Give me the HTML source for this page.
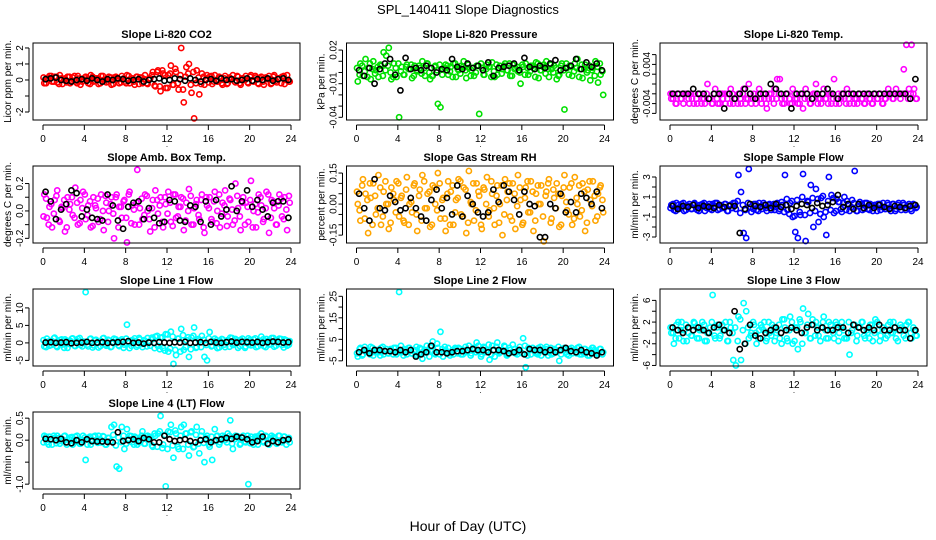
<!DOCTYPE html>
<html><head><meta charset="utf-8">
<style>
html,body{margin:0;padding:0;background:#fff;}
svg{display:block;font-family:"Liberation Sans",sans-serif;}
</style></head>
<body>
<svg id="chart" width="936" height="540" viewBox="0 0 936 540" xmlns="http://www.w3.org/2000/svg">
<text x="468" y="14" text-anchor="middle" font-size="13">SPL_140411  Slope Diagnostics</text>
<text x="468" y="531" text-anchor="middle" font-size="14">Hour of Day (UTC)</text>
</svg>
<script>
// x-axis tick values (hours)
const xTicks = [0,4,8,12,16,20,24];

// Panel titles and y axis titles
const titles = ["Slope Li-820 CO2","Slope Li-820 Pressure","Slope Li-820 Temp.","Slope Amb. Box Temp.","Slope Gas Stream RH","Slope Sample Flow","Slope Line 1 Flow","Slope Line 2 Flow","Slope Line 3 Flow","Slope Line 4 (LT) Flow"];
const yTitles = ["Licor ppm per min.","kPa per min.","degrees C per min.","degrees C per min.","percent per min.","ml/min per min.","ml/min per min.","ml/min per min.","ml/min per min.","ml/min per min."];
const colors = ["#ff0000","#00e000","#ff00ff","#ff00ff","#ffa500","#0000ff","#00ffff","#00ffff","#00ffff","#00ffff"];

// y ranges
const yMins = [-2.5,-0.0424,-0.00735,-0.234,-0.188,-3.6,-6.6,-7.4,-6.1,-1.11];
const yMaxs = [2.31,0.0263,0.00837,0.328,0.184,4.1,15.4,28.4,8.1,0.64];
// y ticks and labelled ticks
const yTicks = [[-2,-1,0,1,2],[-0.04,-0.03,-0.02,-0.01,0,0.01,0.02],[-0.006,-0.004,-0.002,0,0.002,0.004,0.006],[-0.2,-0.1,0,0.1,0.2],[-0.15,-0.1,-0.05,0,0.05,0.1,0.15],[-3,-2,-1,0,1,2,3],[-5,0,5,10],[-5,0,5,10,15,20,25],[-6,-4,-2,0,2,4,6],[-1,-0.5,0,0.5]];
const yLabels = [["-2","0","1","2"],["-0.04","-0.01","0.02"],["-0.004","0.004"],["-0.2","0.0","0.2"],["-0.15","0.00","0.15"],["-3","-1","1","3"],["-5","0","5","10"],["-5","5","15","25"],["-6","-2","2","6"],["-1.0","0.0","0.5"]];
const yLabelVals = [[-2,0,1,2],[-0.04,-0.01,0.02],[-0.004,0.004],[-0.2,0,0.2],[-0.15,0,0.15],[-3,-1,1,3],[-5,0,5,10],[-5,5,15,25],[-6,-2,2,6],[-1,0,0.5]];

// colored (per-minute) series, evenly spaced over the day
const co2Color = [-0.2,0.1,0.25,-0.1,0.2,-0.15,0.3,-0.25,0.1,0.2,-0.2,0.15,-0.1,0.25,-0.3,0.05,0.2,-0.2,0.3,-0.1,0.1,-0.25,0.25,0.0,-0.15,0.2,-0.3,0.15,0.1,-0.2,0.25,-0.1,0.3,-0.2,0.1,-0.3,0.2,0.15,-0.2,0.3,-0.25,0.1,0.5,-0.4,0.6,-0.7,0.4,-0.5,0.3,0.9,-0.3,0.5,-0.6,2.0,-1.4,0.8,1.0,-0.8,-2.4,0.6,-0.9,0.4,-0.3,0.3,0.2,-0.25,0.3,-0.1,0.15,-0.3,0.25,-0.2,0.1,0.3,-0.15,0.2,-0.3,0.1,0.25,-0.2,0.3,-0.1,0.15,-0.25,0.2,-0.3,0.1,0.25,-0.2,0.3,-0.15,0.1,0.2,-0.25,0.3,-0.1];
const presColor = [-0.008,0.008,-0.003,0.012,0.004,-0.006,0.010,0.002,-0.004,0.006,0.018,0.015,0.022,-0.006,0.008,-0.004,-0.040,0.005,-0.002,0.007,0.003,-0.005,0.006,0.001,0.004,0.010,-0.003,0.008,-0.006,-0.003,0.006,-0.028,-0.031,0.003,0.007,-0.002,0.005,0.008,-0.004,0.002,0.006,0.010,-0.005,0.004,0.002,-0.003,0.006,-0.037,0.004,-0.002,0.007,0.005,0.009,-0.004,-0.002,0.006,0.003,0.008,0.002,-0.003,0.007,0.004,0.001,-0.010,0.005,0.008,-0.002,0.006,0.004,0.009,-0.005,0.002,0.007,0.010,-0.004,0.003,0.006,-0.006,-0.002,0.008,-0.033,0.004,0.006,-0.003,0.008,0.012,0.003,-0.005,0.007,0.002,-0.007,0.004,0.010,-0.009,-0.002,-0.020];
const tempColor = [-0.003,-0.002,-0.004,-0.002,-0.003,-0.002,-0.002,-0.004,-0.003,-0.002,-0.004,-0.002,-0.003,-0.004,0.000,-0.003,-0.004,-0.001,-0.004,-0.002,-0.003,-0.004,-0.002,-0.001,-0.004,-0.003,-0.002,-0.004,-0.001,-0.003,0.000,-0.004,-0.002,-0.003,-0.001,-0.004,-0.003,-0.005,-0.002,-0.003,-0.001,0.001,0.001,-0.004,-0.003,-0.002,-0.004,-0.001,-0.003,-0.004,-0.002,-0.005,-0.001,-0.003,-0.004,-0.002,0.000,-0.003,-0.004,-0.001,-0.003,-0.002,-0.004,0.001,-0.003,-0.004,-0.002,-0.003,-0.001,-0.004,-0.002,-0.003,-0.004,-0.002,-0.003,-0.004,-0.002,-0.003,-0.004,-0.002,-0.003,-0.002,-0.004,-0.003,-0.001,-0.002,-0.003,-0.001,-0.002,-0.002,0.003,0.008,-0.001,0.008,-0.001,-0.003];
const boxColor = [0.12,-0.05,0.03,-0.12,0.08,0.15,-0.08,0.02,-0.15,0.1,0.05,-0.03,0.17,-0.1,0.08,0.14,-0.06,0.04,-0.12,0.1,0.02,-0.08,0.12,-0.14,0.06,0.0,0.1,-0.2,0.12,0.03,-0.05,0.08,-0.23,0.14,0.04,-0.1,0.3,0.02,-0.06,0.12,0.0,-0.15,0.08,0.15,-0.02,0.1,-0.12,0.05,0.14,-0.08,0.12,-0.05,0.03,0.1,-0.14,0.06,0.16,-0.1,0.02,0.08,-0.06,0.12,-0.16,0.04,0.1,-0.08,0.14,0.0,-0.12,0.06,0.15,-0.04,0.08,-0.1,0.2,0.02,-0.14,0.1,0.06,-0.08,0.22,0.0,-0.12,0.12,0.04,-0.06,0.14,-0.16,0.08,0.02,-0.1,0.12,-0.04,0.1,-0.14,0.06];
const rhColor = [0.0,-0.08,0.12,0.05,-0.14,0.03,0.1,-0.05,0.14,-0.1,0.06,0.0,-0.12,0.08,0.02,0.11,-0.06,0.04,-0.09,0.13,0.0,-0.04,0.1,-0.13,0.07,0.14,-0.02,0.05,-0.11,0.09,0.0,0.15,-0.07,0.03,-0.13,0.11,0.06,-0.1,0.02,0.12,-0.05,0.08,-0.14,0.16,0.0,-0.08,0.1,0.04,-0.12,0.07,0.13,-0.03,0.05,-0.1,0.09,0.0,-0.15,0.12,0.06,-0.06,0.1,-0.12,0.14,0.02,-0.09,0.08,-0.04,0.11,-0.13,0.05,0.0,0.09,-0.18,0.06,0.12,-0.07,0.03,0.1,-0.11,0.04,0.14,-0.03,0.08,-0.1,0.13,0.0,-0.06,0.1,-0.13,0.07,0.02,0.11,-0.08,0.05,0.09,-0.04];
const flowColor = [0.2,-0.3,0.4,-0.2,0.3,-0.4,0.1,0.3,-0.2,0.4,-0.3,0.2,0.3,-0.4,0.1,-0.2,0.3,0.4,-0.3,0.2,-0.1,0.3,-0.4,0.2,0.4,-0.2,3.2,1.5,-2.6,-3.1,3.8,-0.5,0.3,-0.3,0.4,-0.2,0.2,-0.4,0.3,0.1,-0.3,0.4,-0.2,0.2,3.2,-0.3,0.4,-1.0,-2.5,-3.1,-0.8,3.3,-3.4,0.5,2.2,-2.0,1.8,-1.5,0.9,-1.0,-2.8,3.0,1.2,-0.6,0.8,0.5,-0.5,1.0,0.6,-0.4,0.7,3.6,-0.4,0.5,-0.3,0.4,-0.2,0.3,-0.4,0.2,0.3,-0.3,0.4,-0.2,0.2,-0.4,0.3,-0.2,0.4,-0.3,0.2,-0.1,0.3,-0.4,0.2,0.0];
const line1Color = [-1,1.2,-0.8,0.5,1.5,-1.2,0.8,-0.5,1.0,-1.4,0.6,1.3,-0.9,1.1,-0.6,0.4,14.5,-1.0,1.2,-0.7,0.9,-1.3,0.5,1.4,-0.8,0.7,-1.1,1.2,0.3,-0.9,1.0,-0.5,5.2,-1.5,0.8,1.3,-0.6,1.0,-1.2,0.5,1.4,-0.8,1.1,1.8,-0.9,1.5,-1.5,2.5,-2.5,3.2,-6.0,-3.5,1.2,4.0,-2.0,0.8,-4.0,1.5,4.4,-1.2,0.7,2.0,-4.0,-5.0,3.1,-0.8,1.2,-1.5,0.6,1.0,-1.2,0.8,1.5,-0.6,1.1,-1.4,0.9,0.3,-1.0,1.3,-0.7,1.0,-1.2,0.6,1.8,-0.9,1.1,-0.5,1.4,-1.1,0.8,1.2,-0.6,1.0,-0.8,0.5];
const line2Color = [-3,1,-2,0,-1,1.5,-2.5,0,-1,1,-2,0.5,-1.5,0,1,-2,27,-1,0.5,-2,1,-1.5,0,-2.5,1,-4,0,-1,1.5,4,-2,1,8.5,-3,0,1,-1.5,-2,0.5,1,-2,0,-1,2,-1.5,0,3.5,-1,-2,1,0,-4.5,2,-3,3.5,-1,0,1.5,-2,0,2.5,-1.5,0,-1,5.5,-8,1,-2,0,-1.5,1,-2.5,0,1.5,-1,-2,0.5,-1,-5,0,1,-2,0.5,-1.5,0,1,-2,-1,0.5,-2.5,0,1,-1,-2,0.5,-1];
const line3Color = [0,-2,1.5,-1,2,0.5,-1.5,1,-0.5,1.8,-1,0.5,2,-1.5,0,1,7,-1,1.5,-0.5,0.5,2,-1.5,1,-5,-6,3,-5,5.5,4,-1,0,1.5,-2,0.5,1,2,-1,0,1.5,-1.5,0.5,-1,2.5,1,-1.5,3,-2,1,-3,2,4.5,0,3.5,-1,1.5,2,-0.5,1,3,-1,2,0.5,-1,1.5,0,2,-1,-1,-4,0.5,1.5,-0.5,1,2,-1,0,1.5,-1.5,2.5,0.5,-0.5,1,-1,1.5,0,2,-1,0.5,1,-0.5,1.5,2,-1,0.5,-0.5];
const line4Color = [0.1,-0.05,0.08,-0.1,0.05,0.1,-0.08,0.02,0.1,-0.05,0.06,-0.1,0.08,0.0,-0.08,0.1,-0.45,0.05,-0.1,0.08,0.0,0.1,-0.05,0.08,-0.1,0.05,0.3,0.35,-0.6,-0.65,0.3,-0.2,0.25,0.1,-0.05,0.08,-0.1,0.05,0.2,-0.08,0.1,0.05,-0.15,0.1,0.15,0.55,-0.1,-1.05,0.2,0.35,-0.4,0.15,-0.2,0.3,0.35,0.15,-0.35,0.2,-0.15,0.3,-0.3,0.2,-0.5,0.1,-0.15,-0.45,0.25,0.1,-0.05,0.1,0.0,0.15,0.45,-0.2,0.1,0.05,-0.08,0.1,-0.05,-1.0,0.08,-0.1,0.05,0.1,0.15,-0.05,0.08,-0.1,0.1,0.05,-0.08,0.1,-0.05,0.08,0.0,-0.05];

// additional per-minute values forming the dense core of each band
const co2Core = [0.15,-0.2,0.05,0.25,-0.1,0.2,-0.25,0.1,0.0,-0.15,0.2,-0.05,0.25,-0.2,0.1,-0.1,0.15,0.05,-0.25,0.2,-0.05,0.1,-0.2,0.25,0.0,-0.1,0.15,-0.25,0.2,0.05,-0.15,0.1,-0.2,0.25,0.0,-0.1,0.2,-0.25,0.15,0.05,-0.2,0.1,0.3,-0.35,0.5,-0.4,0.6,0.3,-0.5,0.4,-0.3,0.7,-0.2,0.3,-0.6,0.2,0.4,-0.3,0.5,-0.2,0.15,-0.25,0.2,0.05,-0.15,0.25,-0.1,0.0,0.2,-0.2,0.1,-0.25,0.15,0.05,-0.1,0.25,-0.2,0.1,0.0,-0.15,0.2,-0.05,0.25,-0.2,0.1,-0.1,0.15,0.05,-0.25,0.2,-0.05,0.1,-0.2,0.25,0.0,-0.1];
const presCore = [0.004,-0.002,0.006,0.001,-0.004,0.008,0.003,-0.001,0.005,0.007,-0.003,0.002,0.006,0.000,-0.004,0.004,0.008,0.001,-0.002,0.005,0.003,0.007,-0.003,0.002,0.006,-0.001,0.004,0.008,0.000,-0.003,0.005,0.002,0.007,-0.002,0.004,0.006,0.001,-0.004,0.008,0.003,-0.001,0.005,0.002,0.007,-0.003,0.004,0.000,0.006,0.008,-0.002,0.003,0.005,-0.004,0.001,0.007,0.004,-0.001,0.006,0.002,0.008,-0.003,0.003,0.005,0.000,0.007,-0.002,0.004,0.001,0.006,-0.004,0.008,0.002,0.005,-0.001,0.003,0.007,0.000,0.004,-0.003,0.006,0.002,0.008,-0.002,0.005,0.001,0.004,-0.004,0.007,0.003,0.000,0.006,0.002,-0.003,0.005,0.008,0.001];
const tempCore = [-0.002,-0.003,-0.004,-0.002,-0.003,-0.004,-0.002,-0.003,-0.002,-0.004,-0.003,-0.002,-0.004,-0.003,-0.002,-0.003,-0.004,-0.002,-0.003,-0.004,-0.002,-0.002,-0.003,-0.004,-0.002,-0.003,-0.004,-0.003,-0.002,-0.004,-0.003,-0.002,-0.003,-0.004,-0.002,-0.003,-0.002,-0.004,-0.003,-0.002,-0.004,-0.003,-0.002,-0.003,-0.004,-0.002,-0.003,-0.004,-0.002,-0.003,-0.004,-0.002,-0.003,-0.002,-0.004,-0.003,-0.002,-0.004,-0.003,-0.002,-0.003,-0.004,-0.002,-0.003,-0.004,-0.002,-0.003,-0.002,-0.004,-0.003,-0.002,-0.004,-0.003,-0.002,-0.003,-0.004,-0.002,-0.003,-0.004,-0.002,-0.003,-0.002,-0.004,-0.003,-0.002,-0.002,-0.003,-0.002,-0.002,-0.003,-0.002,-0.002,-0.003,-0.002,-0.002,-0.003];
const boxCore = [-0.04,0.09,-0.1,0.05,-0.02,0.11,-0.07,0.03,0.08,-0.12,0.01,0.1,-0.05,0.06,-0.09,0.02,0.12,-0.03,0.07,-0.11,0.04,0.09,-0.06,0.0,0.11,-0.08,0.05,-0.02,0.1,-0.12,0.03,0.07,-0.05,0.12,-0.09,0.01,0.06,-0.1,0.09,-0.03,0.11,-0.06,0.02,-0.12,0.08,0.04,-0.08,0.1,-0.02,0.06,-0.11,0.12,-0.04,0.03,0.09,-0.07,0.0,0.11,-0.1,0.05,-0.03,0.08,-0.12,0.1,0.02,-0.06,0.07,-0.09,0.12,-0.02,0.04,-0.11,0.09,0.01,-0.07,0.11,-0.04,0.06,-0.1,0.03,0.08,-0.12,0.05,-0.01,0.1,-0.08,0.02,0.12,-0.05,0.07,-0.1,0.04,0.09,-0.06,0.01,0.11];
const rhCore = [0.06,-0.03,0.09,-0.07,0.02,0.1,-0.1,0.04,-0.02,0.08,-0.06,0.11,0.0,-0.09,0.05,-0.04,0.1,0.03,-0.08,0.07,-0.1,0.01,0.09,-0.05,0.04,-0.08,0.11,-0.02,0.06,-0.1,0.08,-0.03,0.1,0.02,-0.07,0.05,-0.1,0.09,-0.04,0.03,0.11,-0.06,0.07,-0.09,0.01,0.1,-0.03,0.06,-0.1,0.08,0.0,-0.06,0.11,-0.02,0.04,-0.09,0.09,-0.05,0.02,0.1,-0.08,0.05,-0.01,0.08,-0.1,0.03,0.11,-0.04,0.06,-0.08,0.09,0.0,-0.06,0.04,0.1,-0.09,0.07,-0.02,0.05,-0.1,0.08,0.01,-0.05,0.1,-0.07,0.03,0.09,-0.03,0.06,-0.09,0.11,-0.01,0.04,-0.06,0.08,0.02];
const flowCore = [-0.1,0.3,-0.4,0.2,0.0,0.4,-0.3,0.1,-0.2,0.3,0.0,-0.4,0.2,0.4,-0.1,0.3,-0.3,0.1,0.4,-0.2,0.0,0.3,-0.4,0.2,-0.1,0.4,0.6,-0.6,0.2,-0.3,0.4,0.0,-0.2,0.3,-0.4,0.1,0.4,-0.1,0.2,-0.3,0.3,0.0,-0.4,0.5,-0.5,0.8,-0.7,0.6,-0.9,0.7,-0.5,1.0,-0.8,0.6,-0.6,0.9,-0.4,0.8,-0.7,1.1,-0.5,0.6,-0.3,0.9,-0.4,0.5,-0.2,0.4,-0.3,0.2,0.0,0.4,-0.4,0.1,0.3,-0.2,0.4,-0.3,0.1,0.2,-0.4,0.3,0.0,-0.2,0.4,-0.1,0.3,-0.4,0.2,0.0,0.4,-0.3,0.1,-0.2,0.3,-0.1];
const line1Core = [0.8,-1.2,0.4,-0.6,1.3,-0.9,0.2,1.0,-1.4,0.6,-0.3,1.2,-0.8,0.5,1.4,-1.0,0.3,-0.5,1.1,-1.3,0.7,0.0,-0.9,1.3,-0.4,0.9,-1.2,0.2,1.0,-0.7,0.5,-1.4,1.2,0.1,-0.8,0.6,-1.1,1.4,-0.3,0.8,-1.0,0.4,1.5,-1.5,2.0,-1.8,1.6,-2.2,2.4,-1.6,1.8,-2.0,1.2,-2.5,2.2,-1.2,1.6,-1.8,2.0,-1.4,1.1,-1.2,0.9,-0.6,1.3,-1.0,0.4,0.8,-1.3,1.1,-0.5,0.6,-1.1,1.4,-0.2,0.7,-0.9,1.2,-1.4,0.5,0.9,-0.6,1.3,-1.0,0.2,1.0,-1.2,0.6,-0.4,1.4,-0.8,0.3,1.1,-1.3,0.7,-0.5];
const line2Core = [-1.5,0.5,-2.5,1.5,-0.5,-2,1,-1,0,-2.5,1.5,-0.5,-1.5,0.5,-2,1,-1,2,-2.5,0,1,-1.5,-0.5,1.5,-2,0.5,-1,2,-3,1.5,-1.5,3,-2,0.5,1.5,-1,-2.5,0,1,-1.5,0.5,-2,1.5,-0.5,-2.5,1,-1,2,-3,1.5,-1,2.5,-2,0,1.5,-1.5,-0.5,2,-2.5,1,-1,0.5,-2,1.5,-1.5,2,-2.5,0,1,-1,-2,1.5,-0.5,0.5,-2.5,1,-1.5,0,1.5,-2,0.5,-1,-2.5,1,0,-1.5,1.5,-2,0.5,-1,-2.5,1,0,-1.5,0.5,-2];
const line3Core = [1,0,-1,2,0.5,-1.5,1.5,0,-0.5,2,1,-1,0.5,1.5,-1.5,0,2,-0.5,1,-1,1.5,0.5,-1.5,2,0,1,-1.5,2.5,0.5,-2,1,-0.5,2,0,-1,1.5,0.5,-1.5,2,-0.5,1,0,1.5,-2,2.5,-1,0.5,2,-1.5,1,2.5,-2,0,1.5,-1,2.5,-0.5,1,-1.5,2,0.5,-1,1.5,0,2,-1.5,1,0.5,-1,2,0,1.5,-1.5,1,2,-0.5,0.5,-1,1.5,0,2,-1.5,1,0.5,-0.5,2,0,1,-1.5,1.5,0.5,-1,2,0,1,-0.5];
const line4Core = [-0.05,0.08,-0.1,0.03,0.1,-0.07,0.05,-0.02,0.09,-0.1,0.02,0.07,-0.05,0.1,-0.08,0.0,0.06,-0.1,0.08,-0.03,0.1,-0.06,0.02,0.09,-0.1,0.05,-0.02,0.12,-0.12,0.06,-0.04,0.1,-0.08,0.03,0.09,-0.1,0.05,-0.05,0.1,-0.08,0.02,0.08,-0.12,0.15,-0.15,0.2,-0.18,0.12,-0.2,0.18,-0.12,0.22,-0.15,0.1,-0.2,0.15,-0.1,0.18,-0.16,0.12,-0.08,0.1,-0.06,0.05,-0.1,0.08,-0.02,0.09,-0.1,0.04,0.07,-0.05,0.1,-0.08,0.02,0.09,-0.1,0.05,-0.03,0.1,-0.07,0.03,0.08,-0.1,0.06,-0.02,0.1,-0.09,0.04,0.07,-0.06,0.1,-0.04,0.08,-0.1,0.05];

// black (hourly-average) series, evenly spaced over the day
const co2Black = [0.05,0.1,0.15,0,-0.05,-0.1,0,0.05,-0.05,0.1,0,-0.1,0.05,0,0.1,0.05,-0.05,0,0.05,-0.1,0,0.05,0.1,-0.05,0,0.1,0.05,-0.05,0.1,0,-0.1,0,0.05,-0.05,0.1,0,0.05,-0.05,0,0.1,-0.05,0.05,0,0.1,-0.05,0.05,0.1,0];
const presBlack = [0.002,-0.003,0.004,-0.010,0.003,0.008,0.012,-0.002,-0.016,0.013,0.003,0.004,0.002,0.006,0.004,0.000,0.003,0.002,0.012,0.005,0.003,0.008,0.004,0.006,0.002,0.009,-0.003,0.004,0.005,0.006,0.008,0.002,0.013,0.005,0.003,0.006,0.004,0.008,0.011,0.002,0.004,0.006,0.012,0.003,0.009,0.005,0.008,0.002];
const tempBlack = [-0.002,-0.002,-0.002,-0.002,-0.001,-0.002,-0.002,-0.003,-0.002,-0.002,-0.005,-0.002,-0.003,-0.002,-0.001,-0.002,-0.003,-0.002,-0.002,0.000,-0.001,-0.002,-0.002,-0.005,-0.002,-0.002,-0.002,-0.003,-0.002,-0.002,-0.001,-0.002,-0.003,-0.002,-0.002,-0.002,-0.002,-0.002,-0.002,-0.002,-0.002,-0.002,-0.002,-0.002,-0.002,-0.002,-0.003,0.001];
const boxBlack = [0.14,0.07,-0.06,0.01,0.05,0.15,0.13,-0.04,0.01,-0.05,-0.06,-0.07,0.12,0.04,-0.07,-0.13,0.03,0.06,0.07,-0.06,0.02,-0.05,-0.09,-0.08,0.08,0.07,-0.07,-0.08,0.04,0.03,-0.08,0.07,-0.1,0.08,-0.04,0.01,0.18,0.0,0.07,0.15,0.03,0.08,0.01,-0.04,0.06,0.07,0.07,-0.05];
const rhBlack = [0.05,-0.02,-0.08,0.12,-0.02,-0.03,0.04,0.01,-0.03,-0.02,0.03,-0.02,-0.06,-0.08,0.02,0.07,-0.02,0.03,-0.05,0.09,-0.06,0.04,0.0,-0.04,-0.06,-0.04,0.07,0.01,0.09,0.06,0.02,-0.05,0.06,0.0,-0.01,-0.16,-0.16,0.0,-0.02,0.05,-0.04,0.01,-0.04,0.05,0.03,0.0,0.06,-0.02];
const flowBlack = [0.1,-0.2,0.1,0,0.2,-0.1,0.1,0,-0.1,0.2,0,0.1,0.1,-2.6,-0.2,0.3,0.1,0,0.2,-0.1,0.3,0,0.2,-0.2,0.1,0.3,0.2,-0.1,0.4,0.1,0.2,0.5,1.2,0,0.3,-0.2,0.3,-0.1,0.2,-0.1,0.2,0,-0.2,0.1,0,-0.1,0.1,0.2];
const line1Black = [0.1,0.2,0,0.1,0.2,-0.1,0,0.1,0.3,0,0.1,0.2,0,0.1,0.2,0.3,0.5,0,0.1,-0.2,0.1,0,0.2,0.1,0,0.2,0.1,0.3,0,0.1,0.2,0,0.3,0.1,0,0.2,0.4,0.1,0.3,0.2,0.1,0.3,0,0.2,0.4,0.3,0.1,0.2];
const line2Black = [-1,0,-1.5,0,0,-0.5,-0.5,-1,0,-1,0,-3,-2,-1,2,-1,-1,-1.5,-1,-0.5,-0.5,0,0.5,0,0,-1,0,0,-0.5,-1.5,-1,0,-2,0.5,0,0,-1,0,-1,0,1,-0.5,-1,0,-1,-1.5,-2.5,-1];
const line3Black = [1,0.5,0,1,0.5,1,0.5,0,1,1.5,0.5,0,4,-3,-2,1.5,-0.5,-1,0,0.5,1,0,0.5,1,0.5,0,1,1.5,0.5,1,0.5,0.5,1,1,0,1.5,1,0.5,1,0.5,1.5,0.5,0.5,1,0.5,0.5,-1,0.5];
const line4Black = [0.03,0.02,0.0,0.03,-0.05,-0.07,0.0,-0.05,0.02,-0.02,-0.03,-0.03,-0.04,-0.05,0.18,-0.02,0.0,0.02,-0.02,0.05,0.02,-0.05,-0.05,0.1,0.02,-0.02,0.0,0.02,-0.02,-0.05,0.0,0.02,-0.05,0.0,0.02,0.05,0.03,0.08,0.06,0.02,-0.05,-0.02,0.08,-0.08,-0.02,-0.05,0.0,0.02];

const colorSeries = [co2Color,presColor,tempColor,boxColor,rhColor,flowColor,line1Color,line2Color,line3Color,line4Color];
const coreSeries = [co2Core,presCore,tempCore,boxCore,rhCore,flowCore,line1Core,line2Core,line3Core,line4Core];
const blackSeries = [co2Black,presBlack,tempBlack,boxBlack,rhBlack,flowBlack,line1Black,line2Black,line3Black,line4Black];

const NS = "http://www.w3.org/2000/svg";
const svg = document.getElementById("chart");
function mk(tag, attrs, parent){
  const e = document.createElementNS(NS, tag);
  for (const k in attrs) e.setAttribute(k, attrs[k]);
  (parent||svg).appendChild(e);
  return e;
}
const colOff = [0, 313.5, 627];
const rowTop = [43, 166, 289, 412];
const boxH = 77;

for (let p = 0; p < 10; p++) {
  const off = colOff[p % 3], top = rowTop[Math.floor(p / 3)];
  const bl = 33 + off, br = 300 + off, bb = top + boxH;
  const g = mk("g", {});
  
  
  const xs = h => 43 + off + h * (248 / 24);
  const ys = v => bb - (v - yMins[p]) / (yMaxs[p] - yMins[p]) * boxH;

  const t = mk("text", {x: (bl + br) / 2, y: top - 5, "text-anchor": "middle", "font-size": 11, "font-weight": "bold"}, g);
  t.textContent = titles[p];
  
  

  const yt = mk("text", {x: 0, y: 0, "text-anchor": "middle", "font-size": 10, transform: "translate(" + (bl - 22) + "," + (top + boxH / 2) + ") rotate(-90)"}, g);
  yt.textContent = yTitles[p];
  
  

  // x axis
  const xa = mk("g", {}, g);
  
  
  mk("line", {x1: xs(0), x2: xs(24), y1: bb + 5, y2: bb + 5, stroke: "#000"}, xa);
  xTicks.forEach(h => {
    mk("line", {x1: xs(h), x2: xs(h), y1: bb + 5, y2: bb + 10, stroke: "#000"}, xa);
    const l = mk("text", {x: xs(h), y: bb + 22, "text-anchor": "middle", "font-size": 10}, xa);
    l.textContent = h;
    
    
  });
  const dot = mk("text", {x: xs(12), y: bb + 27, "text-anchor": "middle", "font-size": 8}, xa);
  dot.textContent = ".";

  // y axis
  const ya = mk("g", {}, g);
  
  
  const tk = yTicks[p];
  mk("line", {x1: bl - 4, x2: bl - 4, y1: ys(tk[0]), y2: ys(tk[tk.length - 1]), stroke: "#000"}, ya);
  tk.forEach(v => mk("line", {x1: bl - 4, x2: bl - 8, y1: ys(v), y2: ys(v), stroke: "#000"}, ya));
  yLabelVals[p].forEach((v, i) => {
    const l = mk("text", {x: 0, y: 0, "text-anchor": "middle", "font-size": 10, transform: "translate(" + (bl - 10) + "," + ys(v) + ") rotate(-90)"}, ya);
    l.textContent = yLabels[p][i];
    
    
  });

  // points
  const cg = mk("g", {fill: "none", stroke: colors[p], "stroke-width": 1.6}, g);
  
  
  const cr = coreSeries[p], n0 = cr.length;
  cr.forEach((v, i) => {
    const c = mk("circle", {cx: xs(i * 24 / n0 + 0.05), cy: ys(v), r: 2.6}, cg);
    
    
  });
  const cs = colorSeries[p], n1 = cs.length;
  cs.forEach((v, i) => {
    const c = mk("circle", {cx: xs((i + 0.5) * 24 / n1), cy: ys(v), r: 2.6}, cg);
    
    
  });
  const bs = blackSeries[p], n2 = bs.length;
  const kg = mk("g", {fill: "none", stroke: "#000", "stroke-width": 1.6}, g);
  
  
  bs.forEach((v, i) => {
    const c = mk("circle", {cx: xs((i + 0.5) * 24 / n2), cy: ys(v), r: 2.6}, kg);
    
    
  });

  const box = mk("rect", {x: bl, y: top, width: br - bl, height: boxH, fill: "none", stroke: "#000"}, g);
  
  
}
</script>
</body></html>
